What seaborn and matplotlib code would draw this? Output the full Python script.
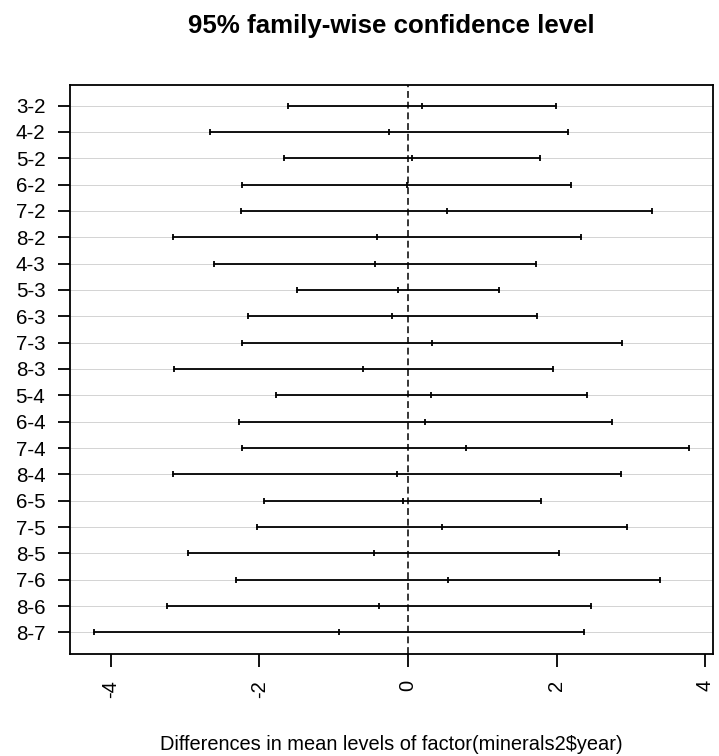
import numpy as np
import pandas as pd
import matplotlib
matplotlib.use("Agg")
import matplotlib.pyplot as plt
import seaborn as sns

# Tukey HSD comparisons of yearly means (upper row first)
comparisons = ["3-2", "4-2", "5-2", "6-2", "7-2", "8-2", "4-3", "5-3", "6-3", "7-3",
               "8-3", "5-4", "6-4", "7-4", "8-4", "6-5", "7-5", "8-5", "7-6", "8-6", "8-7"]
diff = [0.19, -0.26, 0.05, -0.02, 0.52, -0.42, -0.44, -0.13, -0.21, 0.32,
        -0.60, 0.31, 0.23, 0.78, -0.15, -0.07, 0.46, -0.46, 0.54, -0.39, -0.93]
lwr = [-1.61, -2.67, -1.67, -2.23, -2.25, -3.17, -2.61, -1.50, -2.16, -2.23,
       -3.15, -1.78, -2.28, -2.23, -3.17, -1.94, -2.03, -2.96, -2.32, -3.24, -4.23]
upr = [1.99, 2.15, 1.78, 2.19, 3.28, 2.33, 1.72, 1.23, 1.74, 2.88,
       1.95, 2.41, 2.75, 3.78, 2.86, 1.79, 2.95, 2.03, 3.39, 2.46, 2.37]
xticks = [-4, -2, 0, 2, 4]

n = len(comparisons)
ypos = np.arange(n, 0, -1)

long = pd.concat([
    pd.DataFrame({"comparison": comparisons, "ypos": ypos, "value": v, "stat": s})
    for v, s in ((lwr, "lwr"), (diff, "diff"), (upr, "upr"))
], ignore_index=True)

sns.set_theme(style="ticks")
plt.rcParams["font.family"] = ["Liberation Sans", "DejaVu Sans"]

W, H = 719, 756
fig = plt.figure(figsize=(W / 100, H / 100), dpi=100)
ax = fig.add_axes([70 / W, 1 - 653.5 / H, (712.7 - 70) / W, (653.5 - 84.5) / H])

# light reference line behind every comparison
for y in ypos:
    ax.axhline(y, color="#d3d3d3", lw=0.7, zorder=0)
ax.axvline(0, color="black", lw=1.1, ls=(0, (4.5, 2.5)), zorder=1)

sns.lineplot(data=long, x="value", y="ypos", units="comparison", estimator=None,
             sort=False, color="black", lw=1.3, marker="|", markersize=4.0,
             markeredgewidth=1.3, markeredgecolor="black", legend=False, ax=ax, zorder=2)

lo, hi = min(lwr), max(upr)
pad = 0.04 * (hi - lo)
ax.set_xlim(lo - pad, hi + pad)
ax.set_ylim(1 - 0.04 * (n - 1), n + 0.04 * (n - 1))

ax.set_xticks(xticks)
ax.set_xticklabels([str(t) for t in xticks], rotation=90, fontsize=14.5)
ax.set_yticks(ypos)
ax.set_yticklabels(comparisons, fontsize=14.8)
ax.tick_params(axis="y", length=8.8, width=1.3, pad=9, color="black", labelcolor="black")
ax.tick_params(axis="x", length=9.2, width=1.3, pad=10, color="black", labelcolor="black")
for sp in ax.spines.values():
    sp.set_visible(True)
    sp.set_color("black")
    sp.set_linewidth(1.3)
ax.set_xlabel("")
ax.set_ylabel("")

fig.text((70 + 712.7) / 2 / W, 1 - 33 / H, "95% family-wise confidence level",
         ha="center", va="baseline", fontsize=18.6, fontweight="bold", color="black")
fig.text((70 + 712.7) / 2 / W, 1 - 750 / H,
         "Differences in mean levels of factor(minerals2$year)",
         ha="center", va="baseline", fontsize=14.4, color="black")

fig.savefig("out.png", dpi=100)
